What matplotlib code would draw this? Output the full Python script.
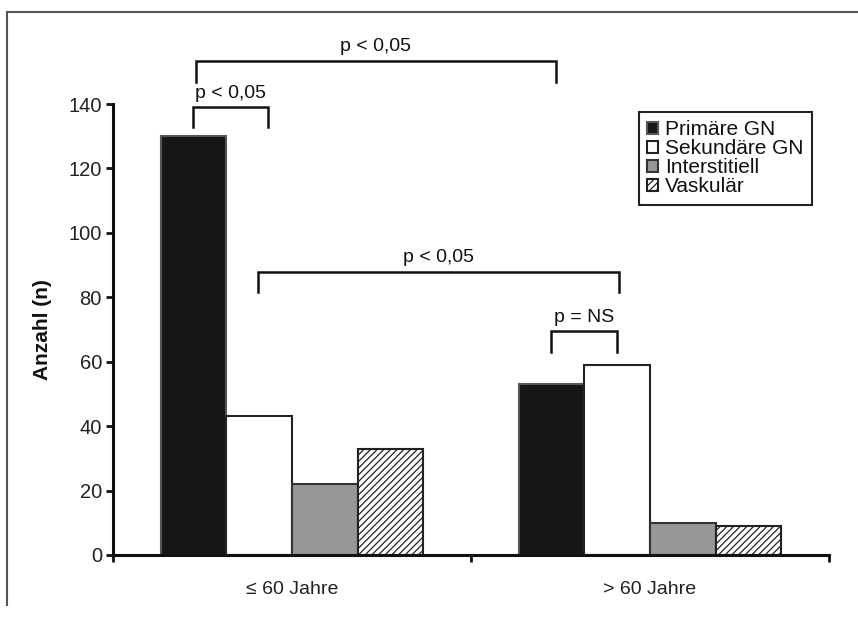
import matplotlib
matplotlib.use("Agg")
import matplotlib.pyplot as plt
from matplotlib.lines import Line2D
import numpy as np

categories = ["≤ 60 Jahre", "> 60 Jahre"]
series_names = ["Primäre GN", "Sekundäre GN", "Interstitiell", "Vaskulär"]
primaer = [130, 53]
sekundaer = [43, 59]
interstitiell = [22, 10]
vaskulaer = [33, 9]
y_ticks = [0, 20, 40, 60, 80, 100, 120, 140]

# significance brackets: (x_left, x_right, y_bar, y_leg_end, label)
brackets = [
    (-0.268, 0.737, 153.5, 146.7, "p < 0,05"),
    (-0.276, -0.067, 139.0, 132.8, "p < 0,05"),
    (-0.095, 0.913, 88.0, 81.5, "p < 0,05"),
    (0.723, 0.908, 69.5, 63.0, "p = NS"),
]

plt.rcParams['font.family'] = ['Liberation Sans', 'DejaVu Sans']

fig = plt.figure(figsize=(8.58, 6.17), dpi=100)
ax = fig.add_axes([113/858, 1-555/617, (829-113)/858, (555-104)/617])

x = np.arange(len(categories))
w = 0.183
offsets = np.array([-1.5, -0.5, 0.5, 1.5]) * w
data = [primaer, sekundaer, interstitiell, vaskulaer]
styles = [
    dict(color="#161616", edgecolor="#555555", hatch=None),
    dict(color="white", edgecolor="#222222", hatch=None),
    dict(color="#979797", edgecolor="#333333", hatch=None),
    dict(color="white", edgecolor="#222222", hatch="/////"),
]
plt.rcParams['hatch.linewidth'] = 0.9
handles = []
for vals, off, st, name in zip(data, offsets, styles, series_names):
    b = ax.bar(x + off, vals, width=w, color=st["color"], edgecolor=st["edgecolor"],
               hatch=st["hatch"], linewidth=1.5, label=name, zorder=2)
    handles.append(b)

ax.set_xlim(-0.5, 1.5)
ax.set_ylim(0, 140)
ax.set_yticks(y_ticks)
ax.set_yticklabels([str(t) for t in y_ticks], fontsize=14.5, color="#222222")
ax.set_xticks([-0.5, 0.5, 1.5])
ax.set_xticklabels([])
ax.tick_params(axis='x', direction='out', length=5, width=2, color="#111111")
ax.tick_params(axis='y', direction='out', length=5, width=2, color="#111111", pad=3)
for s in ["top", "right"]:
    ax.spines[s].set_visible(False)
for s in ["left", "bottom"]:
    ax.spines[s].set_linewidth(2.2)
    ax.spines[s].set_color("#111111")

for i, c in enumerate(categories):
    ax.text(x[i], -10.8, c, ha="center", va="center", fontsize=14,
            family=['Liberation Sans Narrow', 'Liberation Sans', 'DejaVu Sans'],
            color="#222222")

ax.set_ylabel("Anzahl (n)", fontsize=15, fontweight="bold", labelpad=12, color="#111111")

for xl, xr, yb, yl, lab in brackets:
    ax.plot([xl, xl, xr, xr], [yl, yb, yb, yl], color="#111111", lw=1.8,
            clip_on=False, solid_joinstyle="miter", zorder=3)
    ax.text((xl + xr) / 2, yb + 1.6, lab, ha="center", va="bottom", fontsize=14,
            color="#111111")

leg = ax.legend(handles=handles, labels=series_names, loc="upper left",
                bbox_to_anchor=(639/858, 1-112/617), bbox_transform=fig.transFigure,
                borderaxespad=0, fancybox=False, framealpha=1, edgecolor="#222222",
                fontsize=15, handlelength=0.5, handleheight=0.5, handletextpad=0.35,
                labelspacing=0.0, borderpad=0.4)
leg.get_frame().set_linewidth(1.5)
for t in leg.get_texts():
    t.set_color("#111111")

# figure frame lines (top and left)
fig.add_artist(Line2D([7/858, 1.0], [1-12/617, 1-12/617], transform=fig.transFigure,
                      color="#555555", lw=1.5))
fig.add_artist(Line2D([7/858, 7/858], [1-12/617, 1-605/617], transform=fig.transFigure,
                      color="#555555", lw=1.5))

fig.savefig("out.png", dpi=100)
